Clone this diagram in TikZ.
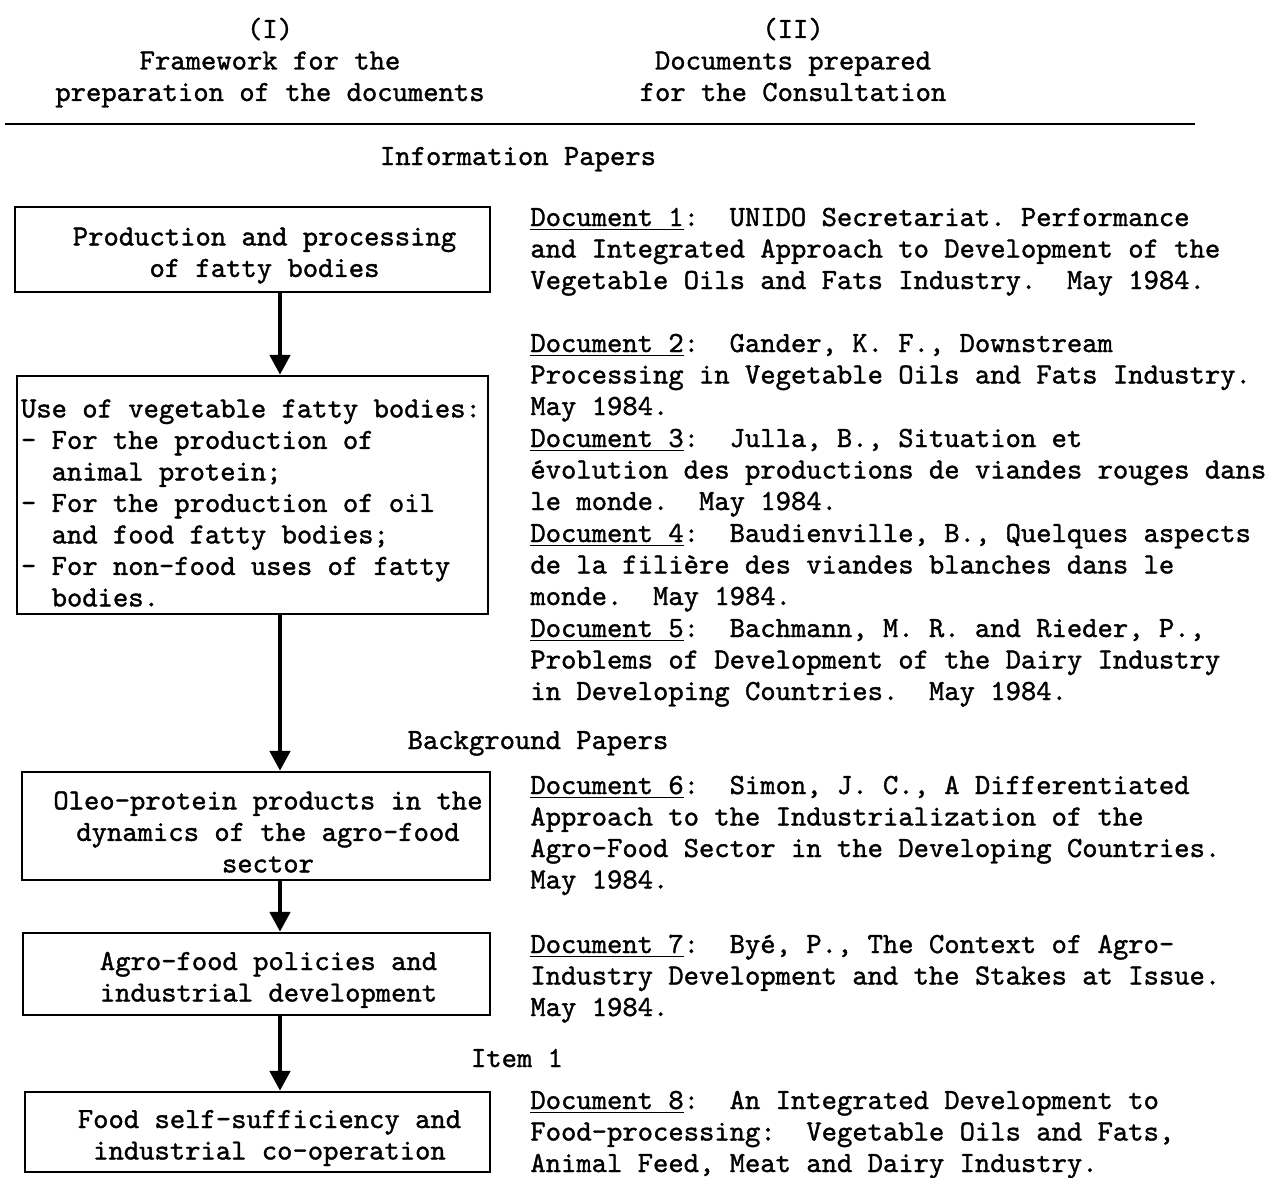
\documentclass[tikz,border=0pt]{standalone}
\usepackage{fontspec}
\usetikzlibrary{arrows.meta}
\newfontfamily\typew{lmmono10-regular.otf}[FakeBold=1.2]
\newcommand\indnt{\mbox{\ \ }}

\begin{document}
\begin{tikzpicture}[x=0.5pt, y=-0.5pt,
  every node/.style={font=\typew\fontsize{14.6}{15.75}\selectfont\frenchspacing},
  box/.style={draw, line width=1.2pt, inner xsep=2pt, inner ysep=0pt, align=flush center,
    execute at begin node={\advance\leftskip by 12pt\rule{0pt}{15pt}}},
  lbox/.style={draw, line width=1.2pt, inner xsep=2pt, inner ysep=0pt, align=flush left,
    execute at begin node={\rule{0pt}{17pt}}},
  doc/.style={anchor=base west, inner sep=0pt, text width=372pt, align=flush left},
  hdr/.style={anchor=base, inner sep=0pt, text width=230pt, align=flush center},
  head/.style={anchor=base, inner sep=0pt},
  arr/.style={line width=2.4pt, -{Triangle[length=10pt,width=10pt]}}]
  \useasboundingbox (0,0) rectangle (1270,1178);

  % column headings
  \node[hdr] (hI) at (270,38) {(I)\\Framework for the\\preparation of the documents};
  \node[hdr] (hII) at (793,38) {(II)\\Documents prepared\\for the Consultation};
  \draw[line width=1.2pt] (5,124) -- (1195,124);

  \node[head] (info) at (518,165) {Information Papers};
  \node[head] (back) at (538,749) {Background Papers};
  \node[head] (item) at (517,1067) {Item 1};

  % left column
  \node[box, text width=233.5pt, minimum height=42.5pt] (b1) at (252.5,249.5)
    {Production and processing\\of fatty bodies};
  \node[lbox, text width=231.5pt, minimum height=119pt] (b2) at (252.5,495)
    {Use of vegetable fatty bodies:\\- For the production of\\\indnt animal protein;\\
     - For the production of oil\\\indnt and food fatty bodies;\\
     - For non-food uses of fatty\\\indnt bodies.};
  \node[box, text width=230pt, minimum height=54pt] (b3) at (256,826)
    {Oleo-protein products in the\\dynamics of the agro-food\\sector};
  \node[box, text width=229.5pt, minimum height=41pt] (b4) at (256.5,974)
    {Agro-food policies and\\industrial development};
  \node[box, text width=228.5pt, minimum height=40pt] (b5) at (257.5,1132)
    {Food self-sufficiency and\\industrial co-operation};

  \coordinate (ax) at (280,0);
  \draw[arr] (b1.south -| ax) -- (b2.north -| ax);
  \draw[arr] (b2.south -| ax) -- (b3.north -| ax);
  \draw[arr] (b3.south -| ax) -- (b4.north -| ax);
  \draw[arr] (b4.south -| ax) -- (b5.north -| ax);

  % right column
  \node[doc] (d1) at (530,226) {\underline{Document 1}:\ \ UNIDO Secretariat. Performance\\
    and Integrated Approach to Development of the\\
    Vegetable Oils and Fats Industry.\ \ May 1984.};
  \node[doc] (d2) at (530,352) {\underline{Document 2}:\ \ Gander, K. F., Downstream\\
    Processing in Vegetable Oils and Fats Industry.\\May 1984.};
  \node[doc] (d3) at (530,447) {\underline{Document 3}:\ \ Julla, B., Situation et\\
    évolution des productions de viandes rouges dans\\le monde.\ \ May 1984.};
  \node[doc] (d4) at (530,542) {\underline{Document 4}:\ \ Baudienville, B., Quelques aspects\\
    de la filière des viandes blanches dans le\\monde.\ \ May 1984.};
  \node[doc] (d5) at (530,637) {\underline{Document 5}:\ \ Bachmann, M. R. and Rieder, P.,\\
    Problems of Development of the Dairy Industry\\in Developing Countries.\ \ May 1984.};
  \node[doc] (d6) at (530,794) {\underline{Document 6}:\ \ Simon, J. C., A Differentiated\\
    Approach to the Industrialization of the\\
    Agro-Food Sector in the Developing Countries.\\May 1984.};
  \node[doc] (d7) at (530,953) {\underline{Document 7}:\ \ Byé, P., The Context of Agro-\\
    Industry Development and the Stakes at Issue.\\May 1984.};
  \node[doc] (d8) at (530,1109) {\underline{Document 8}:\ \ An Integrated Development to\\
    Food-processing:\ \ Vegetable Oils and Fats,\\
    Animal Feed, Meat and Dairy Industry.};
\end{tikzpicture}
\end{document}
